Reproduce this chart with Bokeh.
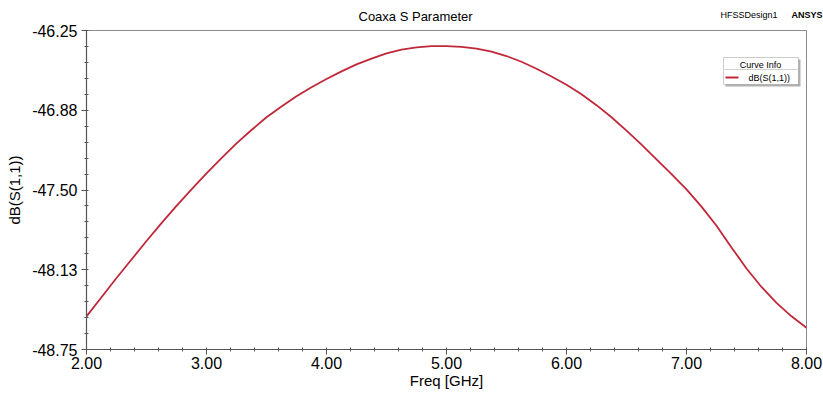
from bokeh.plotting import figure
from bokeh.models import (ColumnDataSource, Range1d, FixedTicker, Label, BoxAnnotation,
                          CustomJSTickFormatter, Title)
from bokeh.embed import file_html
from bokeh.resources import INLINE

# ---- data ----
freq_ghz = [2.000, 2.125, 2.250, 2.375, 2.500, 2.625, 2.750, 2.875, 3.000, 3.125, 3.250,
            3.375, 3.500, 3.625, 3.750, 3.875, 4.000, 4.125, 4.250, 4.375, 4.500, 4.625,
            4.750, 4.875, 5.000, 5.125, 5.250, 5.375, 5.500, 5.625, 5.750, 5.875, 6.000,
            6.125, 6.250, 6.375, 6.500, 6.625, 6.750, 6.875, 7.000, 7.125, 7.250, 7.375,
            7.500, 7.625, 7.750, 7.875, 8.000]
db_s11 = [-48.49, -48.34, -48.19, -48.045, -47.90, -47.76, -47.625, -47.495, -47.37, -47.25,
          -47.135, -47.03, -46.93, -46.845, -46.765, -46.695, -46.63, -46.57, -46.515,
          -46.47, -46.43, -46.40, -46.382, -46.373, -46.372, -46.378, -46.392, -46.415,
          -46.45, -46.495, -46.55, -46.61, -46.675, -46.75, -46.835, -46.93, -47.035,
          -47.145, -47.26, -47.375, -47.495, -47.63, -47.78, -47.95, -48.115, -48.26,
          -48.385, -48.49, -48.58]
x_ticks = [2.0, 3.0, 4.0, 5.0, 6.0, 7.0, 8.0]
y_ticks = [-48.75, -48.125, -47.5, -46.875, -46.25]
y_tick_labels = ["-48.75", "-48.13", "-47.50", "-46.88", "-46.25"]
series_name = "dB(S(1,1))"

FONT = "Liberation Sans"
CURVE = "#c0283a"

p = figure(width=823, height=394, output_backend="svg", toolbar_location=None,
           x_range=Range1d(2.0, 8.0), y_range=Range1d(-48.75, -46.25),
           min_border_left=86, min_border_right=17, min_border_top=30, min_border_bottom=45)
p.background_fill_color = "white"
p.border_fill_color = "white"
p.outline_line_color = "#8a8a8a"
p.outline_line_width = 1
p.grid.visible = False

src = ColumnDataSource(dict(f=freq_ghz, v=db_s11))
p.line("f", "v", source=src, line_color=CURVE, line_width=1.8)

# axes
p.xaxis.ticker = FixedTicker(ticks=x_ticks,
                             minor_ticks=[2.0 + 0.2 * i for i in range(31)])
p.yaxis.ticker = FixedTicker(ticks=y_ticks,
                             minor_ticks=[-48.75 + 0.125 * i for i in range(21)])
p.xaxis.formatter = CustomJSTickFormatter(code="return tick.toFixed(2);")
p.yaxis.major_label_overrides = {t: l for t, l in zip(y_ticks, y_tick_labels)}

for ax in (p.xaxis[0], p.yaxis[0]):
    ax.axis_line_color = "#555555"
    ax.axis_line_width = 1.2
    ax.major_tick_line_color = "#555555"
    ax.minor_tick_line_color = "#555555"
    ax.major_tick_out = 5
    ax.major_tick_in = 0
    ax.minor_tick_out = 2
    ax.minor_tick_in = 2
    ax.major_label_text_font = FONT
    ax.major_label_text_font_size = "16px"
    ax.major_label_text_color = "black"
    ax.axis_label_text_font = FONT
    ax.axis_label_text_font_style = "normal"
    ax.axis_label_text_color = "black"
    ax.axis_label_text_font_size = "15px"

p.xaxis.axis_label = "Freq [GHz]"
p.yaxis.axis_label = "dB(S(1,1))"
p.xaxis.major_label_standoff = 2
p.xaxis.axis_label_standoff = 0
p.yaxis.major_label_standoff = 4
p.yaxis.axis_label_standoff = 6

# title (outermost panel)
p.title.text = "Coaxa S Parameter"
p.title.text_font = FONT
p.title.text_font_size = "13px"
p.title.text_font_style = "normal"
p.title.text_color = "black"
p.title.align = "left"
p.title.vertical_align = "middle"
p.title.offset = 272
p.title.standoff = 12

# top-right texts as zero-height extra titles lifted into the title row
p.add_layout(Title(text="HFSSDesign1", align="right", offset=29, standoff=-41,
                   vertical_align="top",
                   text_font=FONT, text_font_size="9px", text_font_style="normal",
                   text_color="black"), "above")
p.add_layout(Title(text="ANSYS", align="right", offset=-16, standoff=-41,
                   vertical_align="top",
                   text_font=FONT, text_font_size="9px", text_font_style="bold",
                   text_color="black"), "above")

# legend ("Curve Info" box) drawn by hand; screen units relative to the frame
def sbox(left, right, bottom, top, **kw):
    return BoxAnnotation(left=left, right=right, bottom=bottom, top=top,
                         left_units="screen", right_units="screen",
                         top_units="screen", bottom_units="screen", **kw)

p.add_layout(sbox(639, 714, 263, 290, fill_color="#8f8f8f", fill_alpha=0.7,
                  line_alpha=0, level="overlay"))
p.add_layout(sbox(637, 712, 265, 292, fill_color="white", fill_alpha=1.0,
                  line_color="#555555", line_width=1, level="overlay"))
p.add_layout(sbox(638, 711, 279.5, 280.5, fill_color="#d0d0d0", fill_alpha=1.0,
                  line_alpha=0, level="overlay"))
p.add_layout(sbox(639, 652, 271, 273, fill_color=CURVE, fill_alpha=1.0,
                  line_alpha=0, level="overlay"))
p.add_layout(Label(x=674, y=285, x_units="screen", y_units="screen", text="Curve Info",
                   text_font=FONT, text_font_size="9px", text_color="black",
                   text_align="center", text_baseline="middle", level="overlay"))
p.add_layout(Label(x=662, y=272, x_units="screen", y_units="screen", text=series_name,
                   text_font=FONT, text_font_size="9px", text_color="black",
                   text_baseline="middle", level="overlay"))

open("out.html", "w").write(file_html(p, INLINE))
